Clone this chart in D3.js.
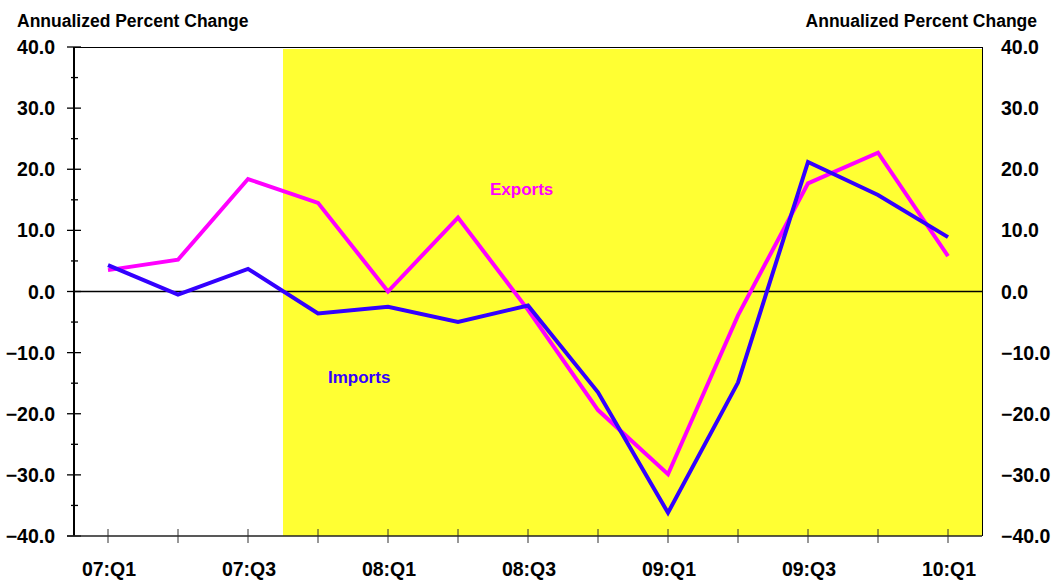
<!DOCTYPE html>
<html><head><meta charset="utf-8">
<script src="https://cdn.jsdelivr.net/npm/d3@7"></script>
<style>
html,body{margin:0;padding:0;background:#fff;}
text{font-family:"Liberation Sans",Arial,sans-serif;font-weight:bold;}
</style></head>
<body><svg id="c" width="1054" height="580"></svg>
<script>
const quarters = ["07:Q1","07:Q2","07:Q3","07:Q4","08:Q1","08:Q2","08:Q3","08:Q4","09:Q1","09:Q2","09:Q3","09:Q4","10:Q1"];
const quarterLabels = ["07:Q1","","07:Q3","","08:Q1","","08:Q3","","09:Q1","","09:Q3","","10:Q1"];
const exportsVals = [3.5, 5.2, 18.4, 14.5, 0.0, 12.1, -3.0, -19.4, -29.9, -3.9, 17.7, 22.7, 5.8];
const importsVals = [4.3, -0.5, 3.7, -3.6, -2.5, -5.0, -2.3, -16.5, -36.2, -14.9, 21.2, 15.8, 8.9];
const yMajorTicks = [-40, -30, -20, -10, 0, 10, 20, 30, 40];
const yMinorTicks = [-35, -25, -15, -5, 5, 15, 25, 35];
const shadeStart = "07:Q4";
const axisTitle = "Annualized Percent Change";

const svg = d3.select("#c");
const L = 74, R = 982, T = 47, B = 536;
const x = d3.scalePoint().domain(quarters).range([108, 948]);
const y = d3.scaleLinear().domain([-40, 40]).range([B, T]);
const fmt = d3.format(".1f");

// shaded region
const sx = x(shadeStart) - x.step() / 2;
svg.append("rect").attr("x", sx).attr("y", T + 2).attr("width", R - sx).attr("height", B - T - 2)
  .attr("fill", "#ffff33");

// frame top/right
svg.append("line").attr("x1", L).attr("x2", R).attr("y1", T + 0.5).attr("y2", T + 0.5).attr("stroke", "#000").attr("stroke-width", 1);
svg.append("line").attr("x1", R + 0.5).attr("x2", R + 0.5).attr("y1", T).attr("y2", B).attr("stroke", "#000").attr("stroke-width", 1);

// zero line
svg.append("line").attr("x1", L).attr("x2", R).attr("y1", y(0)).attr("y2", y(0)).attr("stroke", "#000").attr("stroke-width", 1.5);

// left axis
svg.append("line").attr("x1", L).attr("x2", L).attr("y1", T).attr("y2", B).attr("stroke", "#000").attr("stroke-width", 2);
svg.selectAll(".maj").data(yMajorTicks).enter().append("line")
  .attr("x1", 67).attr("x2", 81).attr("y1", d => y(d)).attr("y2", d => y(d)).attr("stroke", "#000").attr("stroke-width", 1.3);
svg.selectAll(".min").data(yMinorTicks).enter().append("line")
  .attr("x1", 71).attr("x2", 78).attr("y1", d => y(d)).attr("y2", d => y(d)).attr("stroke", "#000").attr("stroke-width", 1.3);

// bottom axis
svg.append("line").attr("x1", 67).attr("x2", R).attr("y1", B).attr("y2", B).attr("stroke", "#222").attr("stroke-width", 1.5);
svg.selectAll(".xt").data(quarters).enter().append("line")
  .attr("x1", d => x(d)).attr("x2", d => x(d)).attr("y1", 529).attr("y2", 543).attr("stroke", "#333").attr("stroke-width", 1);
svg.selectAll(".xl").data(quarters).enter().append("text")
  .attr("x", d => x(d) + 1).attr("y", 575.5).attr("text-anchor", "middle").attr("font-size", "19.5px").attr("fill", "#000")
  .text((d, i) => quarterLabels[i]);

// y labels
svg.selectAll(".yl").data(yMajorTicks).enter().append("text")
  .attr("x", 55).attr("y", d => y(d) + 7).attr("text-anchor", "end").attr("font-size", "19.5px").attr("fill", "#000")
  .text(d => fmt(d));
svg.selectAll(".yr").data(yMajorTicks).enter().append("text")
  .attr("x", 1001).attr("y", d => y(d) + 7).attr("text-anchor", "start").attr("font-size", "19.5px").attr("fill", "#000")
  .text(d => fmt(d));

// titles
svg.append("text").attr("x", 17).attr("y", 27).attr("font-size", "17.5px").attr("fill", "#000").text(axisTitle);
svg.append("text").attr("x", 1037).attr("y", 27).attr("text-anchor", "end").attr("font-size", "17.5px").attr("fill", "#000").text(axisTitle);

// lines
const line = d3.line().x((d, i) => x(quarters[i])).y(d => y(d));
svg.append("path").datum(exportsVals).attr("d", line).attr("fill", "none").attr("stroke", "#ff00ff").attr("stroke-width", 4).attr("stroke-linejoin", "miter");
svg.append("path").datum(importsVals).attr("d", line).attr("fill", "none").attr("stroke", "#3300ff").attr("stroke-width", 4).attr("stroke-linejoin", "miter");

// series labels
svg.append("text").attr("x", 490).attr("y", 195).attr("font-size", "17px").attr("fill", "#ff00ff").text("Exports");
svg.append("text").attr("x", 328).attr("y", 383).attr("font-size", "17px").attr("fill", "#3300ff").text("Imports");
</script></body></html>
